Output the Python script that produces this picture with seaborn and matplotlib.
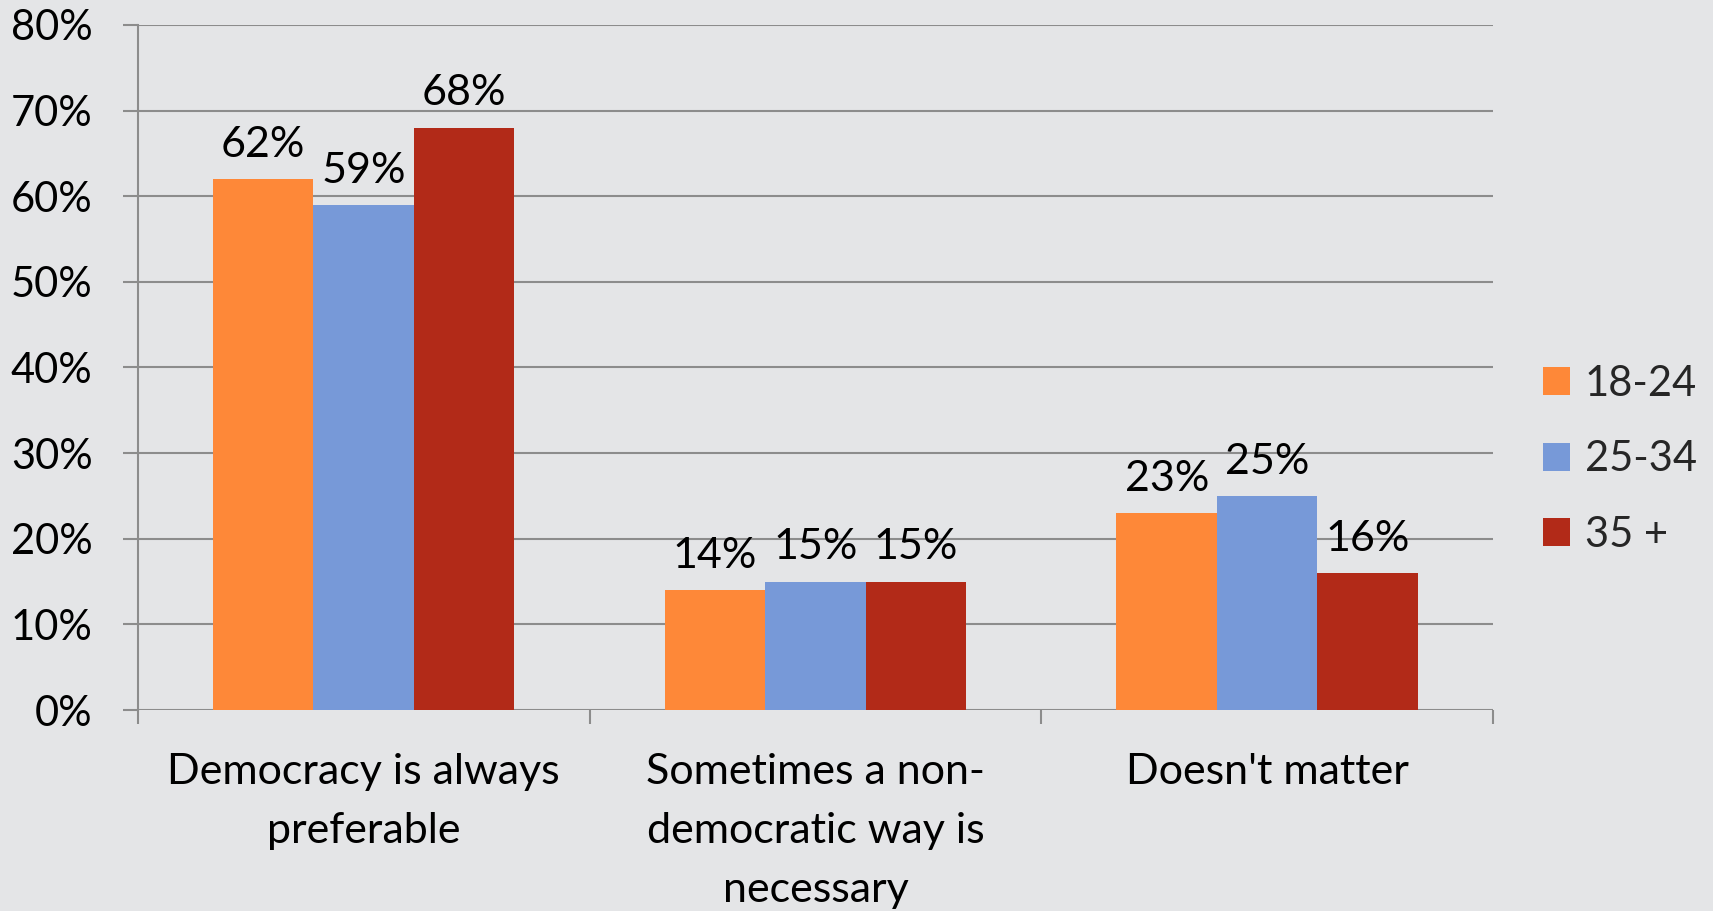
import matplotlib
matplotlib.use("Agg")
import matplotlib.pyplot as plt
import seaborn as sns
import pandas as pd
from matplotlib.ticker import FixedLocator, PercentFormatter

# Survey answers by age group (percent of respondents)
categories = ["Democracy is always\npreferable",
              "Sometimes a non-\ndemocratic way is\nnecessary",
              "Doesn't matter"]
age_groups = ["18-24", "25-34", "35 +"]
values_18_24 = [62, 14, 23]
values_25_34 = [59, 15, 25]
values_35_plus = [68, 15, 16]
colors = ["#FE8838", "#7799D8", "#B22A18"]

rows = []
for grp, vals in zip(age_groups, [values_18_24, values_25_34, values_35_plus]):
    for cat, v in zip(categories, vals):
        rows.append({"answer": cat, "age": grp, "pct": v})
df = pd.DataFrame(rows)

bg = "#E4E5E7"
grid_c = "#8C8C8C"
fs = 31

sns.set_theme(style="white")
plt.rcParams["font.family"] = ["Lato", "DejaVu Sans"]
plt.rcParams["font.size"] = fs

fig = plt.figure(figsize=(17.13, 9.11), dpi=100, facecolor=bg)
ax = fig.add_axes([0.0804, 0.2206, 0.7912, 0.752])
ax.set_facecolor(bg)

sns.barplot(data=df, x="answer", y="pct", hue="age", order=categories,
            hue_order=age_groups, palette=colors, width=0.667,
            saturation=1, linewidth=0, ax=ax, legend=True)

ax.set_xlim(-0.5, 2.5)
ax.set_ylim(0, 80)
ax.set_yticks(range(0, 81, 10))
ax.yaxis.set_major_formatter(PercentFormatter(decimals=0))
ax.yaxis.grid(True, color=grid_c, linewidth=1.5)
ax.set_axisbelow(True)

for sp in ["top", "right", "bottom"]:
    ax.spines[sp].set_visible(False)
ax.spines["left"].set_color(grid_c)
ax.spines["left"].set_linewidth(1.5)

ax.tick_params(axis="y", length=10.5, width=1.5, color=grid_c, pad=22,
               labelsize=30, labelcolor="black", left=True)
ax.tick_params(axis="x", which="major", length=0, pad=31, labelsize=fs,
               labelcolor="black")
ax.xaxis.set_minor_locator(FixedLocator([-0.5, 0.5, 1.5, 2.5]))
ax.tick_params(axis="x", which="minor", length=10, width=1.5, color=grid_c,
               bottom=True)
for lbl in ax.get_xticklabels():
    lbl.set_linespacing(1.67)

ax.set_xlabel("")
ax.set_ylabel("")

for cont in ax.containers:
    ax.bar_label(cont, labels=[f"{v:.0f}%" for v in cont.datavalues],
                 padding=11, fontsize=fs, color="black")

handles, labels = ax.get_legend_handles_labels()
ax.legend(handles, labels, loc="center left", bbox_to_anchor=(1.0245, 0.366),
          frameon=False, fontsize=30, handlelength=0.65, handleheight=0.65,
          handletextpad=0.35, labelspacing=0.9, borderaxespad=0)

fig.savefig("out.png", dpi=100, facecolor=bg)
